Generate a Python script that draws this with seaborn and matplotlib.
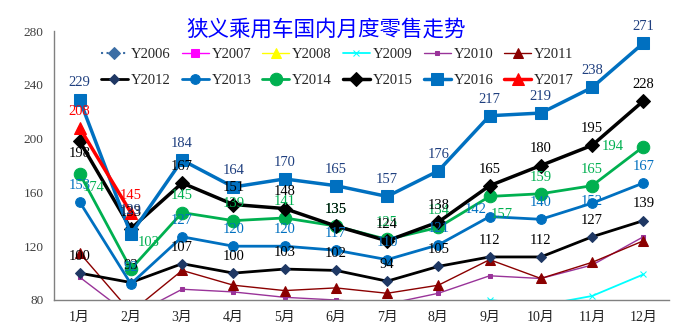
import matplotlib
matplotlib.use("Agg")
import matplotlib.pyplot as plt
import seaborn as sns
import pandas as pd
from matplotlib.ticker import FixedLocator, MultipleLocator

sns.set_style("white")
plt.rcParams['font.family'] = ['Liberation Serif', 'Noto Sans CJK SC', 'DejaVu Sans']

months = ['1月', '2月', '3月', '4月', '5月', '6月', '7月', '8月', '9月', '10月', '11月', '12月']
title = '狭义乘用车国内月度零售走势'

y2006 = [38, 30, 40, 38, 37, 36, 35, 37, 42, 44, 45, 50]
y2007 = [48, 40, 50, 47, 46, 45, 43, 46, 52, 54, 56, 62]
y2008 = [56, 45, 62, 58, 55, 50, 46, 44, 52, 50, 48, 58]
y2009 = [55, 50, 62, 63, 63, 64, 64, 66, 80, 76, 83, 99]
y2010 = [97, 68, 88, 86, 82, 80, 77, 85, 98, 96, 106, 127]
y2011 = [115, 71, 102, 91, 87, 89, 85, 91, 110, 96, 108, 124]
y2012 = [100, 93, 107, 100, 103, 102, 94, 105, 112, 112, 127, 139]
y2013 = [153, 92, 127, 120, 120, 117, 110, 121, 142, 140, 152, 167]
y2014 = [174, 103, 145, 139, 141, 135, 125, 134, 157, 159, 165, 194]
y2015 = [198, 133, 167, 151, 148, 135, 124, 138, 165, 180, 195, 228]
y2016 = [229, 129, 184, 164, 170, 165, 157, 176, 217, 219, 238, 271]
y2017 = [208, 145]

series = [
    ('Y2006', y2006), ('Y2007', y2007), ('Y2008', y2008), ('Y2009', y2009),
    ('Y2010', y2010), ('Y2011', y2011), ('Y2012', y2012), ('Y2013', y2013),
    ('Y2014', y2014), ('Y2015', y2015), ('Y2016', y2016), ('Y2017', y2017),
]
labelled = ['Y2012', 'Y2013', 'Y2014', 'Y2015', 'Y2016', 'Y2017']

styles = {
    'Y2006': dict(color='#3C6EA5', marker='D', ms=6, lw=1.5, mfc='#3C6EA5', ls=':'),
    'Y2007': dict(color='#FF00FF', marker='s', ms=6, lw=1.0, mfc='#FF00FF', ls='-'),
    'Y2008': dict(color='#FFFF00', marker='^', ms=7, lw=1.0, mfc='#FFFF00', ls='-'),
    'Y2009': dict(color='#00FFFF', marker='x', ms=4, lw=1.3, mfc='#00FFFF', ls='-'),
    'Y2010': dict(color='#993399', marker='s', ms=3, lw=1.0, mfc='#993399', ls='-'),
    'Y2011': dict(color='#8B0000', marker='^', ms=7, lw=1.0, mfc='#8B0000', ls='-'),
    'Y2012': dict(color='#000000', marker='D', ms=5, lw=2.0, mfc='#1F3864', ls='-'),
    'Y2013': dict(color='#0070C0', marker='o', ms=7, lw=2.0, mfc='#0070C0', ls='-'),
    'Y2014': dict(color='#00B050', marker='o', ms=9, lw=2.0, mfc='#00B050', ls='-'),
    'Y2015': dict(color='#000000', marker='D', ms=7, lw=2.5, mfc='#000000', ls='-'),
    'Y2016': dict(color='#0070C0', marker='s', ms=9, lw=2.5, mfc='#0070C0', ls='-'),
    'Y2017': dict(color='#FF0000', marker='^', ms=9, lw=2.5, mfc='#FF0000', ls='-'),
}
label_colors = {
    'Y2012': '#000000', 'Y2013': '#0070C0', 'Y2014': '#00B050',
    'Y2015': '#000000', 'Y2016': '#1F3F7F', 'Y2017': '#FF0000',
}
# per-point label offsets (points), default above
offsets = {
    ('Y2015', 0): (0, -9),
    ('Y2014', 0): (10, -10),
    ('Y2014', 1): (13, 19),
    ('Y2014', 8): (9, -13),
    ('Y2014', 11): (-22, 0),
    ('Y2013', 8): (-10, 5),
    ('Y2013', 10): (0, 1),
    ('Y2016', 1): (0, 17),
}

fig = plt.figure(figsize=(6.94, 3.26), dpi=100)
ax = fig.add_axes([54/694, 1-300/326, (669-54)/694, (300-31)/326])

handles = {}
for name, vals in series:
    st = styles[name]
    df = pd.DataFrame({'month': months[:len(vals)], 'value': vals})
    sns.lineplot(data=df, x='month', y='value', ax=ax, color=st['color'],
                 marker=st['marker'], markersize=st['ms'], linewidth=st['lw'],
                 markerfacecolor=st['mfc'], markeredgecolor=st['mfc'] if st['marker'] != 'x' else st['color'],
                 linestyle=st['ls'], label=name, legend=False, sort=False)
    handles[name] = ax.lines[-1]

for name, vals in series:
    if name not in labelled:
        continue
    for i, v in enumerate(vals):
        off = offsets.get((name, i), (0, 12))
        ax.annotate(str(v), (i, v), xytext=off, textcoords='offset points',
                    ha='center', va='center', fontsize=10.5,
                    color=label_colors[name], family='Liberation Serif',
                    annotation_clip=False)

ax.set_xlim(-0.5, 11.5)
ax.set_ylim(80, 280)
ax.set_yticks([80, 120, 160, 200, 240, 280])
ax.yaxis.set_minor_locator(MultipleLocator(8))
ax.xaxis.set_major_locator(FixedLocator(range(12)))
ax.set_xticklabels(months)
ax.xaxis.set_minor_locator(FixedLocator([i + 0.5 for i in range(-1, 12)]))
ax.set_xlabel('')
ax.set_ylabel('')
ax.tick_params(axis='x', which='major', length=0, pad=8, labelsize=10, labelcolor='#222222')
ax.tick_params(axis='x', which='minor', length=4, direction='in', color='#808080')
ax.tick_params(axis='y', which='major', length=4, direction='out', labelsize=9.5, labelcolor='#404040', color='#606060')
ax.tick_params(axis='y', which='minor', length=1.5, direction='in', color='#808080')
for s in ['top', 'right']:
    ax.spines[s].set_visible(False)
for s in ['left', 'bottom']:
    ax.spines[s].set_color('#808080')
    ax.spines[s].set_linewidth(1.0)

order = ['Y2006', 'Y2012', 'Y2007', 'Y2013', 'Y2008', 'Y2014',
         'Y2009', 'Y2015', 'Y2010', 'Y2016', 'Y2011', 'Y2017']
fig.legend([handles[n] for n in order], order, ncol=6, loc='upper left',
           bbox_to_anchor=(101/694, 1-48/326), frameon=False,
           prop={'family': 'Liberation Serif', 'size': 10.5},
           handlelength=1.85, handletextpad=0.2, columnspacing=0.75,
           labelspacing=0.85, borderpad=0, borderaxespad=0)

fig.text(326/694, 1-30/326, title, color='#0000FF', fontsize=15.5,
         family=['Noto Sans CJK SC'], ha='center', va='center', weight='medium')

fig.savefig('out.png', dpi=100)
